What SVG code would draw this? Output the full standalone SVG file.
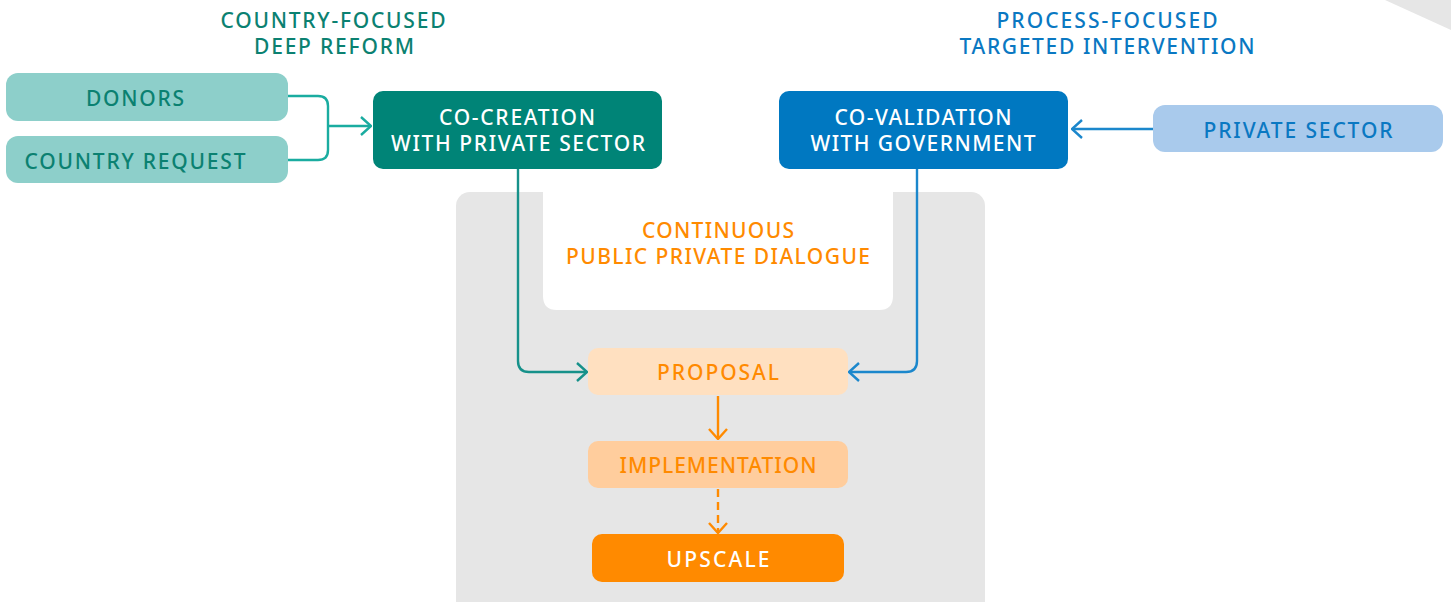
<svg xmlns="http://www.w3.org/2000/svg" width="1451" height="602" viewBox="0 0 1451 602">
<defs>
<style>
text{font-family:"Noto Sans","Liberation Sans",sans-serif;font-size:21px;font-weight:500;text-anchor:middle}
.teal{fill:#0b8171}
.blue{fill:#0a78c2}
.or{fill:#ff8a00}
.w{fill:#ffffff}
.ln{fill:none;stroke-width:2.4;stroke-linejoin:round}
</style>
<marker id="aT" viewBox="0 0 12 20" refX="11" refY="10" markerWidth="12" markerHeight="20" markerUnits="userSpaceOnUse" orient="auto"><path d="M1,1 L11,10 L1,19" fill="none" stroke="#1aaca0" stroke-width="2.4"/></marker>
<marker id="aT2" viewBox="0 0 12 20" refX="11" refY="10" markerWidth="12" markerHeight="20" markerUnits="userSpaceOnUse" orient="auto"><path d="M1,1 L11,10 L1,19" fill="none" stroke="#16918a" stroke-width="2.4"/></marker>
<marker id="aB" viewBox="0 0 12 20" refX="11" refY="10" markerWidth="12" markerHeight="20" markerUnits="userSpaceOnUse" orient="auto"><path d="M1,1 L11,10 L1,19" fill="none" stroke="#1b87cc" stroke-width="2.4"/></marker>
<marker id="aO" viewBox="0 0 12 20" refX="11" refY="10" markerWidth="12" markerHeight="20" markerUnits="userSpaceOnUse" orient="auto"><path d="M1,1 L11,10 L1,19" fill="none" stroke="#ff8a00" stroke-width="2.4"/></marker>
</defs>
<rect width="1451" height="602" fill="#ffffff"/>
<polygon points="1385,0 1451,0 1451,30" fill="#e6e6e6"/>
<g id="panel">
<rect x="456" y="192" width="529" height="430" rx="14" fill="#e6e6e6"/>
<path d="M543,192 H893 V296 Q893,310 879,310 H557 Q543,310 543,296 Z" fill="#ffffff"/>
<text class="or" x="718" y="238" textLength="152" lengthAdjust="spacing">CONTINUOUS</text>
<text class="or" x="718" y="264" textLength="304" lengthAdjust="spacing">PUBLIC PRIVATE DIALOGUE</text>
</g>
<g id="heading-left">
<text class="teal" x="333" y="28" textLength="225" lengthAdjust="spacing">COUNTRY-FOCUSED</text>
<text class="teal" x="334" y="54" textLength="160" lengthAdjust="spacing">DEEP REFORM</text>
</g>
<g id="heading-right">
<text class="blue" x="1107" y="28" textLength="221" lengthAdjust="spacing">PROCESS-FOCUSED</text>
<text class="blue" x="1107" y="54" textLength="295" lengthAdjust="spacing">TARGETED INTERVENTION</text>
</g>
<g id="connectors">
<path class="ln" stroke="#1aaca0" d="M288,96 H318 Q328,96 328,106 V150 Q328,160 318,160 H288"/>
<path class="ln" stroke="#1aaca0" d="M328,126 H371" marker-end="url(#aT)"/>
<path class="ln" stroke="#1b87cc" d="M1153,129 H1072" marker-end="url(#aB)"/>
<path class="ln" stroke="#16918a" d="M518,169 V361 Q518,372 529,372 H587" marker-end="url(#aT2)"/>
<path class="ln" stroke="#1b87cc" d="M917,169 V361 Q917,372 906,372 H849" marker-end="url(#aB)"/>
<path class="ln" stroke="#ff8a00" d="M718,396 V439" marker-end="url(#aO)"/>
<path class="ln" stroke="#ff8a00" stroke-dasharray="8,5" d="M718,489 V533" marker-end="url(#aO)"/>
</g>
<g id="donors">
<rect x="6" y="73" width="282" height="48" rx="12" fill="#8dcfca"/>
<text class="teal" x="135" y="106" textLength="98" lengthAdjust="spacing">DONORS</text>
</g>
<g id="country-request">
<rect x="6" y="136" width="282" height="47" rx="12" fill="#8dcfca"/>
<text class="teal" x="135" y="169" textLength="221" lengthAdjust="spacing">COUNTRY REQUEST</text>
</g>
<g id="co-creation">
<rect x="373" y="91" width="289" height="78" rx="10" fill="#008477"/>
<text class="w" x="517" y="125" textLength="156" lengthAdjust="spacing">CO-CREATION</text>
<text class="w" x="518" y="151" textLength="254" lengthAdjust="spacing">WITH PRIVATE SECTOR</text>
</g>
<g id="co-validation">
<rect x="779" y="91" width="289" height="78" rx="10" fill="#0078c1"/>
<text class="w" x="923" y="125" textLength="177" lengthAdjust="spacing">CO-VALIDATION</text>
<text class="w" x="923" y="151" textLength="225" lengthAdjust="spacing">WITH GOVERNMENT</text>
</g>
<g id="private-sector">
<rect x="1153" y="105" width="290" height="47" rx="12" fill="#a9caec"/>
<text class="blue" x="1298" y="138" textLength="189" lengthAdjust="spacing">PRIVATE SECTOR</text>
</g>
<g id="proposal">
<rect x="588" y="348" width="260" height="47" rx="10" fill="#ffe0c0"/>
<text class="or" x="718" y="380" textLength="122" lengthAdjust="spacing">PROPOSAL</text>
</g>
<g id="implementation">
<rect x="588" y="441" width="260" height="47" rx="10" fill="#ffcd9d"/>
<text class="or" x="718" y="473" textLength="197" lengthAdjust="spacing">IMPLEMENTATION</text>
</g>
<g id="upscale">
<rect x="592" y="534" width="252" height="48" rx="10" fill="#ff8a00"/>
<text class="w" x="718" y="567" textLength="103" lengthAdjust="spacing">UPSCALE</text>
</g>
</svg>
